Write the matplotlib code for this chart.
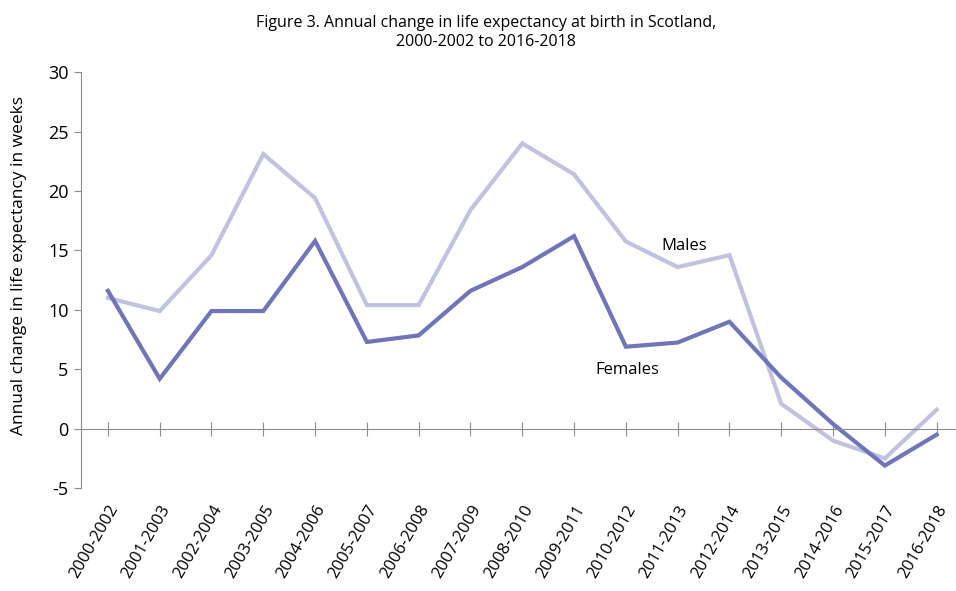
import matplotlib
matplotlib.use('agg')
import matplotlib.pyplot as plt

plt.rcParams['font.family'] = ['Open Sans', 'DejaVu Sans']
plt.rcParams['axes.unicode_minus'] = False

periods = ['2000-2002', '2001-2003', '2002-2004', '2003-2005', '2004-2006',
           '2005-2007', '2006-2008', '2007-2009', '2008-2010', '2009-2011',
           '2010-2012', '2011-2013', '2012-2014', '2013-2015', '2014-2016',
           '2015-2017', '2016-2018']
males = [11.0, 9.9, 14.6, 23.1, 19.4, 10.4, 10.4, 18.4, 24.0, 21.4,
         15.75, 13.6, 14.6, 2.1, -1.0, -2.5, 1.6]
females = [11.6, 4.2, 9.9, 9.9, 15.8, 7.3, 7.85, 11.6, 13.6, 16.2,
           6.9, 7.25, 9.0, 4.3, 0.4, -3.1, -0.5]

grey = '#8c8c8c'
fig = plt.figure(figsize=(9.56, 5.91), dpi=100)
ax = fig.add_axes([0.0847, 0.174, 0.914, 0.704])

x = list(range(len(periods)))
ax.plot(x, males, color='#c0c2e0', lw=3, solid_joinstyle='miter')
ax.plot(x, females, color='#6f75b8', lw=3, solid_joinstyle='miter')

ax.text(11.12, 15.4, 'Males', fontsize=12, ha='center', va='center')
ax.text(10.02, 4.9, 'Females', fontsize=12, ha='center', va='center')

ax.set_xlim(-0.52, 16.35)
ax.set_ylim(-5, 30)
ax.set_yticks(range(-5, 31, 5))
ax.set_xticks(x)

for s in ['top', 'right']:
    ax.spines[s].set_visible(False)
ax.spines['left'].set_color(grey)
ax.spines['bottom'].set_color(grey)
ax.spines['bottom'].set_position(('data', 0))
ax.tick_params(axis='y', colors=grey, labelcolor='black', labelsize=13,
               length=5, direction='out', pad=4)
ax.tick_params(axis='x', colors=grey, labelcolor='black', direction='inout',
               length=10, pad=48)
ax.set_xticklabels(periods, fontsize=12)
plt.setp(ax.get_xticklabels(), rotation=60, ha='right', va='top',
         rotation_mode='anchor')

ax.set_ylabel('Annual change in life expectancy in weeks', fontsize=12.5)
ax.yaxis.set_label_coords(-0.062, 0.535)

fig.text(0.508, 0.975, 'Figure 3. Annual change in life expectancy at birth in Scotland,\n2000-2002 to 2016-2018',
         ha='center', va='top', fontsize=11.5, linespacing=1.25)

fig.savefig('out.png', dpi=100)
